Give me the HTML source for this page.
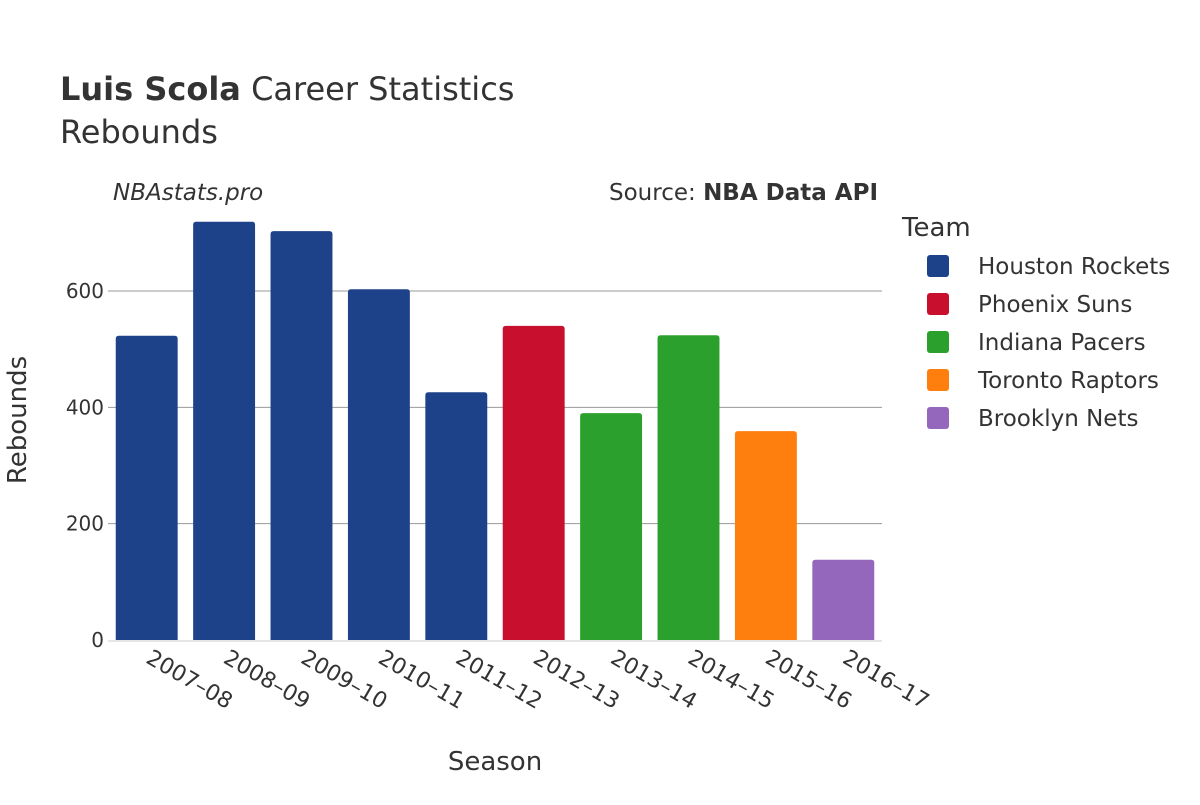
<!DOCTYPE html>
<html><head><meta charset="utf-8"><style>
body{margin:0;background:#fff;font-family:"Liberation Sans","DejaVu Sans",sans-serif;}
svg text{font-family:"DejaVu Sans","Liberation Sans",sans-serif;fill:#333;}
</style></head><body>
<svg id="chart" width="1200" height="800" viewBox="0 0 1200 800">
<text x="60" y="100" font-size="32"><tspan font-weight="bold">Luis Scola</tspan> Career Statistics</text>
<text x="60" y="143" font-size="32">Rebounds</text>
<text x="113" y="200" font-size="23" font-style="italic">NBAstats.pro</text>
<text x="878" y="200" font-size="23" text-anchor="end">Source: <tspan font-weight="bold">NBA Data API</tspan></text>
<g id="grid"></g><g id="bars"></g><g id="xticks"></g>
<text x="495" y="770" font-size="26" text-anchor="middle">Season</text>
<text transform="translate(26,420) rotate(-90)" font-size="26" text-anchor="middle">Rebounds</text>
<text x="902" y="236" font-size="26">Team</text>
<g id="legend"></g>
</svg>
<script>
const seasons=["2007–08","2008–09","2009–10","2010–11","2011–12","2012–13","2013–14","2014–15","2015–16","2016–17"];
const rebounds=[523,719,703,603,426,540,390,524,359,138];
const teams=["Houston Rockets","Houston Rockets","Houston Rockets","Houston Rockets","Houston Rockets","Phoenix Suns","Indiana Pacers","Indiana Pacers","Toronto Raptors","Brooklyn Nets"];
const legendTeams=["Houston Rockets","Phoenix Suns","Indiana Pacers","Toronto Raptors","Brooklyn Nets"];
const teamColors=["#1d428a","#c8102e","#2ca02c","#ff7f0e","#9467bd"];
const yTicks=[0,200,400,600];
const NS="http://www.w3.org/2000/svg";
const x0=108,x1=882,y0=640,ppu=0.5817;
const slot=(x1-x0)/seasons.length;
const yS=v=>y0-v*ppu;
function mk(t,a,p){const e=document.createElementNS(NS,t);for(const k in a)e.setAttribute(k,a[k]);p.appendChild(e);return e;}
const grid=document.getElementById('grid');
yTicks.forEach(v=>{
 if(v>0){const l=mk('line',{x1:x0,x2:x1,y1:yS(v),y2:yS(v),stroke:'#999','stroke-width':1},grid);
 
 }
 const t=mk('text',{x:x0-4,y:yS(v)+7,'font-size':20,'text-anchor':'end'},grid);t.textContent=v;
 
 
});
const zl=mk('line',{x1:x0,x2:x1,y1:y0+1,y2:y0+1,stroke:'#e6e6e6','stroke-width':2},grid);


const bars=document.getElementById('bars'),xt=document.getElementById('xticks');
seasons.forEach((s,i)=>{
 const w=slot*0.8,x=x0+slot*i+slot*0.1,y=yS(rebounds[i]),h=y0-y;
 const c=teamColors[legendTeams.indexOf(teams[i])];
 const r=3;
 const p=mk('path',{d:`M${x},${y0}V${y+r}Q${x},${y} ${x+r},${y}H${x+w-r}Q${x+w},${y} ${x+w},${y+r}V${y0}Z`,fill:c},bars);
 
 
 const cx=x0+slot*i+slot/2;
 const t=mk('text',{transform:`translate(${cx-2},${y0+22}) rotate(30)`,'font-size':22,'text-anchor':'start'},xt);
 t.textContent=s;
 
 
});
const lg=document.getElementById('legend');
legendTeams.forEach((tm,i)=>{
 const y=266+i*38;
 const g=mk('g',{},lg);
 
 
 mk('rect',{x:927,y:y-11,width:22,height:22,rx:3,fill:teamColors[i]},g);
 const t=mk('text',{x:978,y:y+8,'font-size':23},g);t.textContent=tm;
});
</script>
</body></html>
